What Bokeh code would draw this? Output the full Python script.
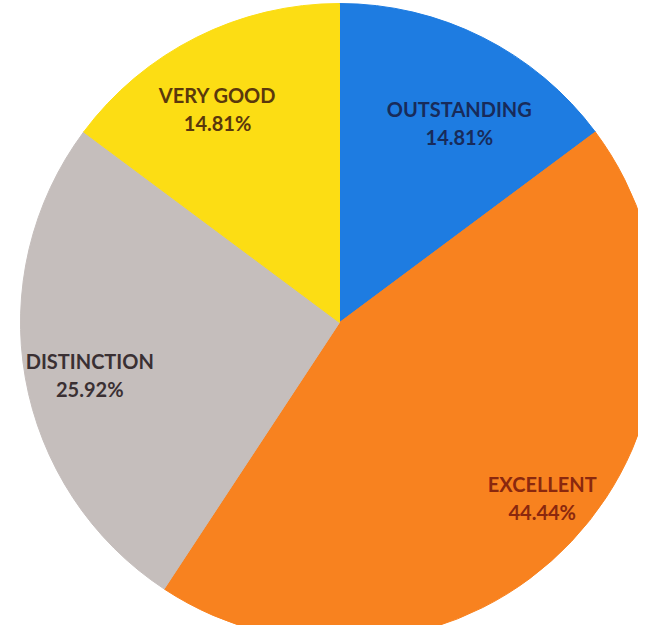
import math
from bokeh.plotting import figure
from bokeh.models import ColumnDataSource, Range1d
from bokeh.core.properties import value
from bokeh.embed import file_html
from bokeh.resources import INLINE

# ---- data ----
categories = ["OUTSTANDING", "EXCELLENT", "DISTINCTION", "VERY GOOD"]
percentages = [14.81, 44.44, 25.92, 14.81]
pct_labels = ["14.81%", "44.44%", "25.92%", "14.81%"]

# ---- style ----
colors = ["#1E7CE1", "#F8821F", "#C5BEBC", "#FCDD14"]
text_colors = ["#182B5A", "#8A280E", "#3A3033", "#5A380C"]
label_r = [0.73, 0.84, 0.80, 0.77]        # radial position of labels (fraction of R)
label_da = [-4.3, 2.5, 1.9, 3.1]          # angular nudge of labels (degrees)

W, H = 638, 625
cx, cy, R = 339, 303, 319

total = sum(percentages)
starts, ends, lx, ly = [], [], [], []
cum = 0.0
for i, v in enumerate(percentages):
    a0 = 90.0 - cum / total * 360.0
    cum += v
    a1 = 90.0 - cum / total * 360.0
    starts.append(math.radians(a0))
    ends.append(math.radians(a1))
    mid = math.radians((a0 + a1) / 2.0 + label_da[i])
    lx.append(cx + label_r[i] * R * math.cos(mid))
    ly.append(cy + label_r[i] * R * math.sin(mid))

src = ColumnDataSource(dict(
    cat=categories, pct=pct_labels, start=starts, end=ends,
    color=colors, tcolor=text_colors, lx=lx, ly=ly,
    x=[cx] * len(categories), y=[cy] * len(categories),
))

p = figure(width=W, height=H, output_backend="svg", toolbar_location=None,
           x_range=Range1d(0, W), y_range=Range1d(0, H), min_border=0,
           match_aspect=False)
p.axis.visible = False
p.grid.visible = False
p.outline_line_color = None
p.background_fill_color = "white"
p.border_fill_color = "white"

p.wedge(x="x", y="y", radius=R, start_angle="start", end_angle="end",
        direction="clock", fill_color="color", line_color="color",
        line_width=1, source=src)

p.text(x="lx", y="ly", text="cat", text_color="tcolor", source=src,
       text_align="center", text_baseline="middle", y_offset=-14,
       text_font=value("Lato"), text_font_style="bold", text_font_size="20px")
p.text(x="lx", y="ly", text="pct", text_color="tcolor", source=src,
       text_align="center", text_baseline="middle", y_offset=14,
       text_font=value("Lato"), text_font_style="bold", text_font_size="20px")

open("out.html", "w").write(file_html(p, INLINE))
